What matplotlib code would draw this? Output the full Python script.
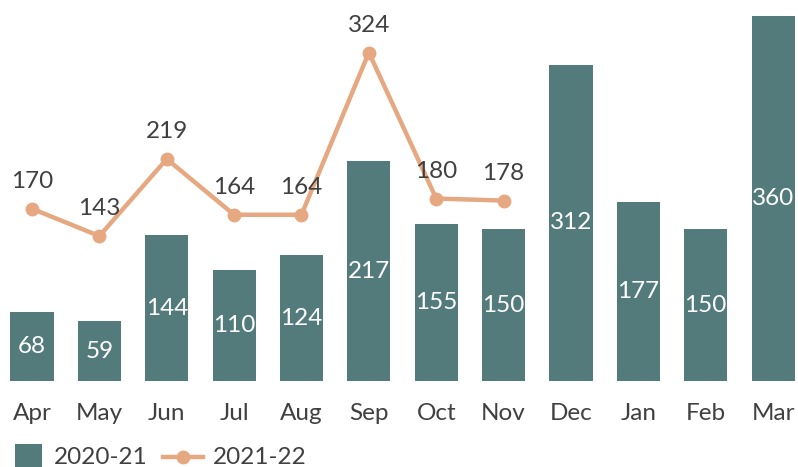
import matplotlib.pyplot as plt
from matplotlib.lines import Line2D
from matplotlib.patches import Rectangle

months = ["Apr", "May", "Jun", "Jul", "Aug", "Sep", "Oct", "Nov", "Dec", "Jan", "Feb", "Mar"]
fy2021 = [68, 59, 144, 110, 124, 217, 155, 150, 312, 177, 150, 360]
fy2122 = [170, 143, 219, 164, 164, 324, 180, 178]

BAR_COL = "#537b7c"
LINE_COL = "#e6a880"
TEXT_COL = "#404040"
FS = 17.5

plt.rcParams["font.family"] = ["Lato", "DejaVu Sans"]

W, H = 798, 467
fig = plt.figure(figsize=(W / 100, H / 100), dpi=100)
ax = fig.add_axes([0, 0.184, 1, 0.816])

x = list(range(len(months)))
ax.bar(x, fy2021, width=0.64, color=BAR_COL, zorder=1)
for xi, v in zip(x, fy2021):
    ax.text(xi, v / 2, str(v), ha="center", va="center", color="white", fontsize=FS)

xl = x[:len(fy2122)]
ax.plot(xl, fy2122, color=LINE_COL, linewidth=3.2, marker="o", markersize=9, zorder=3)
for xi, v in zip(xl, fy2122):
    ax.annotate(str(v), (xi, v), xytext=(0, 12), textcoords="offset points",
                ha="center", va="bottom", color=TEXT_COL, fontsize=FS)

ax.set_xlim(-0.475, 11.37)
ax.set_ylim(0, 375.8)
ax.set_xticks(x)
ax.set_xticklabels(months, fontsize=FS, color=TEXT_COL)
ax.tick_params(axis="x", length=0, pad=16)
ax.set_yticks([])
for s in ax.spines.values():
    s.set_visible(False)

# legend drawn by hand (square patch + short line handle)
fig.add_artist(Rectangle((15 / W, 0), 27 / W, 23 / H, transform=fig.transFigure,
                         facecolor=BAR_COL, edgecolor="none"))
fig.text(54 / W, 3 / H, "2020-21", color=TEXT_COL, fontsize=FS, ha="left", va="baseline")
fig.add_artist(Line2D([163 / W, 203 / W], [10 / H, 10 / H], transform=fig.transFigure,
                      color=LINE_COL, linewidth=3.2))
fig.add_artist(Line2D([183 / W], [10 / H], transform=fig.transFigure, color=LINE_COL,
                      marker="o", markersize=9))
fig.text(213 / W, 3 / H, "2021-22", color=TEXT_COL, fontsize=FS, ha="left", va="baseline")

fig.savefig("out.png", dpi=100)
